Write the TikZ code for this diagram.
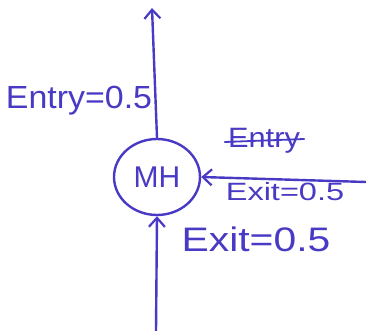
\documentclass[tikz,border=0pt]{standalone}
\usepackage{fontspec}
\setmainfont{Liberation Sans}
\usetikzlibrary{arrows.meta,shapes.geometric}
\definecolor{pen}{RGB}{72,58,196}
\tikzset{
  ink/.style={draw=pen, line width=2.4pt, line cap=round},
  arr/.style={ink, -{Straight Barb[length=9pt,width=16pt,line width=2.2pt]}},
  lbl/.style={text=pen, inner sep=0pt, anchor=center},
}
\begin{document}
\begin{tikzpicture}[x=1pt,y=-1pt]
\useasboundingbox[fill=white] (0,0) rectangle (366,331);
\node[ink, ellipse, minimum width=86pt, minimum height=76pt, inner sep=0pt, text=pen,
      font=\fontsize{30}{32}\selectfont] (mh) at (157,177) {MH};
\coordinate (top) at (152,8);
\coordinate (bot) at (156,331);
\coordinate (rgt) at (366,182);
\draw[arr] (mh.north) -- (top);
\draw[arr] (bot) -- (mh.south);
\draw[arr] (rgt) -- (mh.east);
\node[lbl, xscale=1.06, font=\fontsize{32}{34}\selectfont] (entry) at (79,101) {Entry=0.5};
\node[lbl, xscale=1.1, font=\fontsize{28}{30}\selectfont] (struck) at (264,141) {Entry};
\draw[ink, line width=1.8pt] ([xshift=-3pt,yshift=-1pt]struck.west) -- ([xshift=4pt,yshift=2pt]struck.east);
\node[lbl, xscale=1.3, font=\fontsize{25}{27}\selectfont] (exitr) at (285,192) {Exit=0.5};
\node[lbl, xscale=1.2, font=\fontsize{34}{36}\selectfont] (exitb) at (256,239) {Exit=0.5};
\end{tikzpicture}
\end{document}
